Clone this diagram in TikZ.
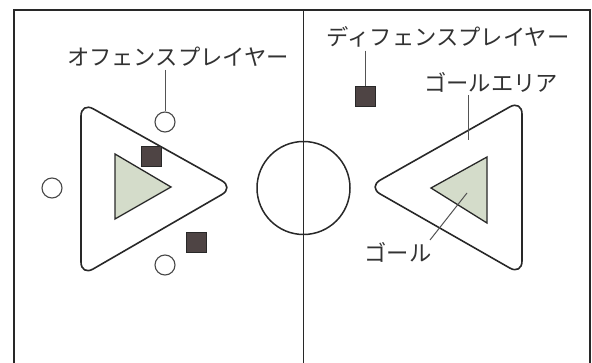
\documentclass[tikz,border=0pt]{standalone}
\usepackage{fontspec}
\newfontfamily\jpfont{Noto Sans CJK JP}
\definecolor{ink}{RGB}{40,40,40}
\definecolor{txt}{RGB}{50,50,50}
\definecolor{goalfill}{RGB}{212,220,202}
\definecolor{sqfill}{RGB}{78,68,68}
\begin{document}
\begin{tikzpicture}[x=1pt,y=-1pt,
  lbl/.style={font=\jpfont\fontsize{22.3}{24}\selectfont, text=txt, inner sep=0pt},
  leader/.style={draw=ink!80, line width=1pt},
  offp/.style={circle, draw=ink!85, line width=1.1pt, minimum size=20pt, inner sep=0pt},
  defp/.style={rectangle, fill=sqfill, draw=ink, line width=0.6pt, minimum size=20pt, inner sep=0pt},
  area/.style={draw=ink, line width=1.6pt, rounded corners=14pt},
  goal/.style={draw=ink, line width=1.3pt, fill=goalfill, line join=miter}]
\useasboundingbox (0,0) rectangle (592,363);
\fill[white] (0,0) rectangle (592,363);
% court
\draw[ink, line width=2pt] (14,366) -- (14,10) -- (590,10) -- (590,366);
\draw[ink, line width=1.8pt] (303.5,10) -- (303.5,366);
\node[circle, draw=ink, line width=1.5pt, minimum size=93pt, inner sep=0pt] (cc) at (303.5,188) {};
% left goal area and goal
\draw[area] (81,102) -- (234,187.5) -- (81,276) -- cycle;
\draw[goal] (115,154) -- (171,187) -- (115,219) -- cycle;
% right goal area and goal
\draw[area] (522,100) -- (368,187) -- (522,275) -- cycle;
\draw[goal] (487,157) -- (431,188) -- (487,223) -- cycle;
% offense players
\node[offp] (o1) at (165,122) {};
\node[offp] (o2) at (52,188) {};
\node[offp] (o3) at (165,265) {};
% defense players
\node[defp] (d1) at (151,156) {};
\node[defp] (d2) at (196,242) {};
\node[defp] (d3) at (365,96) {};
% labels
\node[lbl] (loff) at (178,57) {オフェンスプレイヤー};
\node[lbl] (ldef) at (448,37) {ディフェンスプレイヤー};
\node[lbl] (larea) at (491,82) {ゴールエリア};
\node[lbl] (lgoal) at (398,252) {ゴール};
\coordinate (parea) at (468,140);
\coordinate (pgoal) at (467,193);
\draw[leader] (loff.south -| o1) ++(0,3) -- (o1.north);
\draw[leader] (ldef.south -| d3) ++(0,3) -- (d3.north);
\draw[leader] (larea.south -| parea) ++(0,3) -- (parea);
\draw[leader] (430,240) -- (pgoal);
\end{tikzpicture}
\end{document}
